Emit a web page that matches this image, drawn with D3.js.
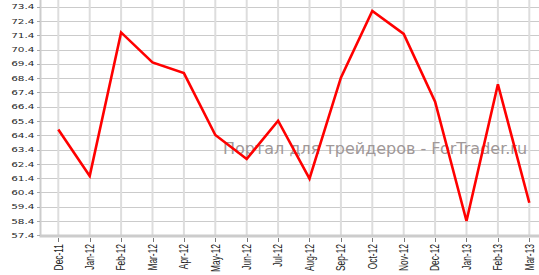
<!DOCTYPE html>
<html>
<head>
<meta charset="utf-8">
<script src="https://cdn.jsdelivr.net/npm/d3@7"></script>
<style>
  html, body { margin: 0; padding: 0; background: #fff; }
  svg { display: block; }
</style>
</head>
<body>
<div id="chart"></div>
<script>
const months = ['Dec-11', 'Jan-12', 'Feb-12', 'Mar-12', 'Apr-12', 'May-12', 'Jun-12', 'Jul-12',
  'Aug-12', 'Sep-12', 'Oct-12', 'Nov-12', 'Dec-12', 'Jan-13', 'Feb-13', 'Mar-13']
const values = [64.8, 61.55, 71.6, 69.5, 68.75, 64.42, 62.74, 65.42,
  61.36, 68.43, 73.1, 71.5, 66.75, 58.4, 67.97, 59.68]
const yTicks = [57.4, 58.4, 59.4, 60.4, 61.4, 62.4, 63.4, 64.4, 65.4, 66.4, 67.4,
  68.4, 69.4, 70.4, 71.4, 72.4, 73.4]
const watermark = 'Портал для трейдеров - ForTrader.ru'

const width = 539, height = 275
const axisX = 41, axisY = 235.5

const svg = d3.select('#chart').append('svg')
    .attr('width', width)
    .attr('height', height)

const x = d3.scalePoint().domain(months).range([58.3, 529.3])
const y = d3.scaleLinear().domain([57.4, 73.4]).range([235.3, 6.7])

// horizontal grid
svg.append('g')
    .selectAll('line')
    .data(yTicks)
    .enter().append('line')
    .attr('x1', axisX).attr('x2', width)
    .attr('y1', d => Math.round(y(d)) + 0.5).attr('y2', d => Math.round(y(d)) + 0.5)
    .attr('stroke', '#cbcbcb')
    .attr('stroke-width', 1)

// vertical grid
svg.append('g')
    .selectAll('line')
    .data(months)
    .enter().append('line')
    .attr('x1', d => x(d)).attr('x2', d => x(d))
    .attr('y1', 0).attr('y2', axisY)
    .attr('stroke', '#dddddd')
    .attr('stroke-width', 2)

// axes lines
svg.append('line')
    .attr('x1', axisX - 0.5).attr('x2', axisX - 0.5)
    .attr('y1', 0).attr('y2', axisY)
    .attr('stroke', '#cccccc').attr('stroke-width', 2)
svg.append('line')
    .attr('x1', axisX - 1.5).attr('x2', width)
    .attr('y1', axisY + 0.5).attr('y2', axisY + 0.5)
    .attr('stroke', '#cccccc').attr('stroke-width', 3)

// y ticks + labels
const yAxis = svg.append('g')
yAxis.selectAll('line')
    .data(yTicks)
    .enter().append('line')
    .attr('x1', 37).attr('x2', 40)
    .attr('y1', d => Math.round(y(d)) + 0.5).attr('y2', d => Math.round(y(d)) + 0.5)
    .attr('stroke', '#aaaaaa')
yAxis.selectAll('g.lbl')
    .data(yTicks)
    .enter().append('g')
    .attr('class', 'lbl')
    .attr('transform', d => 'translate(34.5,' + y(d) + ') scale(1,0.7)')
    .append('text')
    .attr('text-anchor', 'end')
    .attr('dy', '0.36em')
    .attr('font-family', 'DejaVu Sans, Verdana, sans-serif')
    .attr('font-size', 10.5)
    .attr('fill', '#2a2a2a')
    .text(d => d.toFixed(1))

// x ticks + labels
const xAxis = svg.append('g')
xAxis.selectAll('line')
    .data(months)
    .enter().append('line')
    .attr('x1', d => Math.round(x(d)) + 0.5).attr('x2', d => Math.round(x(d)) + 0.5)
    .attr('y1', 238).attr('y2', 242)
    .attr('stroke', '#777777')
xAxis.selectAll('g.lbl')
    .data(months)
    .enter().append('g')
    .attr('class', 'lbl')
    .attr('transform', d => 'translate(' + x(d) + ',244) scale(1,0.7) rotate(-90)')
    .append('text')
    .attr('text-anchor', 'end')
    .attr('dy', '0.36em')
    .attr('font-family', 'Liberation Sans, Arial, sans-serif')
    .attr('font-size', 12)
    .attr('fill', '#222222')
    .text(d => d)

// watermark
svg.append('text')
    .attr('x', 223)
    .attr('y', 154)
    .attr('font-family', 'DejaVu Sans, Verdana, sans-serif')
    .attr('font-size', 16)
    .attr('fill', '#a09898')
    .text(watermark)

// line
const line = d3.line()
    .x((d, i) => x(months[i]))
    .y(d => y(d))

svg.append('path')
    .datum(values)
    .attr('fill', 'none')
    .attr('stroke', '#ff0000')
    .attr('stroke-width', 2.6)
    .attr('stroke-linejoin', 'miter')
    .attr('d', line)
</script>
</body>
</html>
